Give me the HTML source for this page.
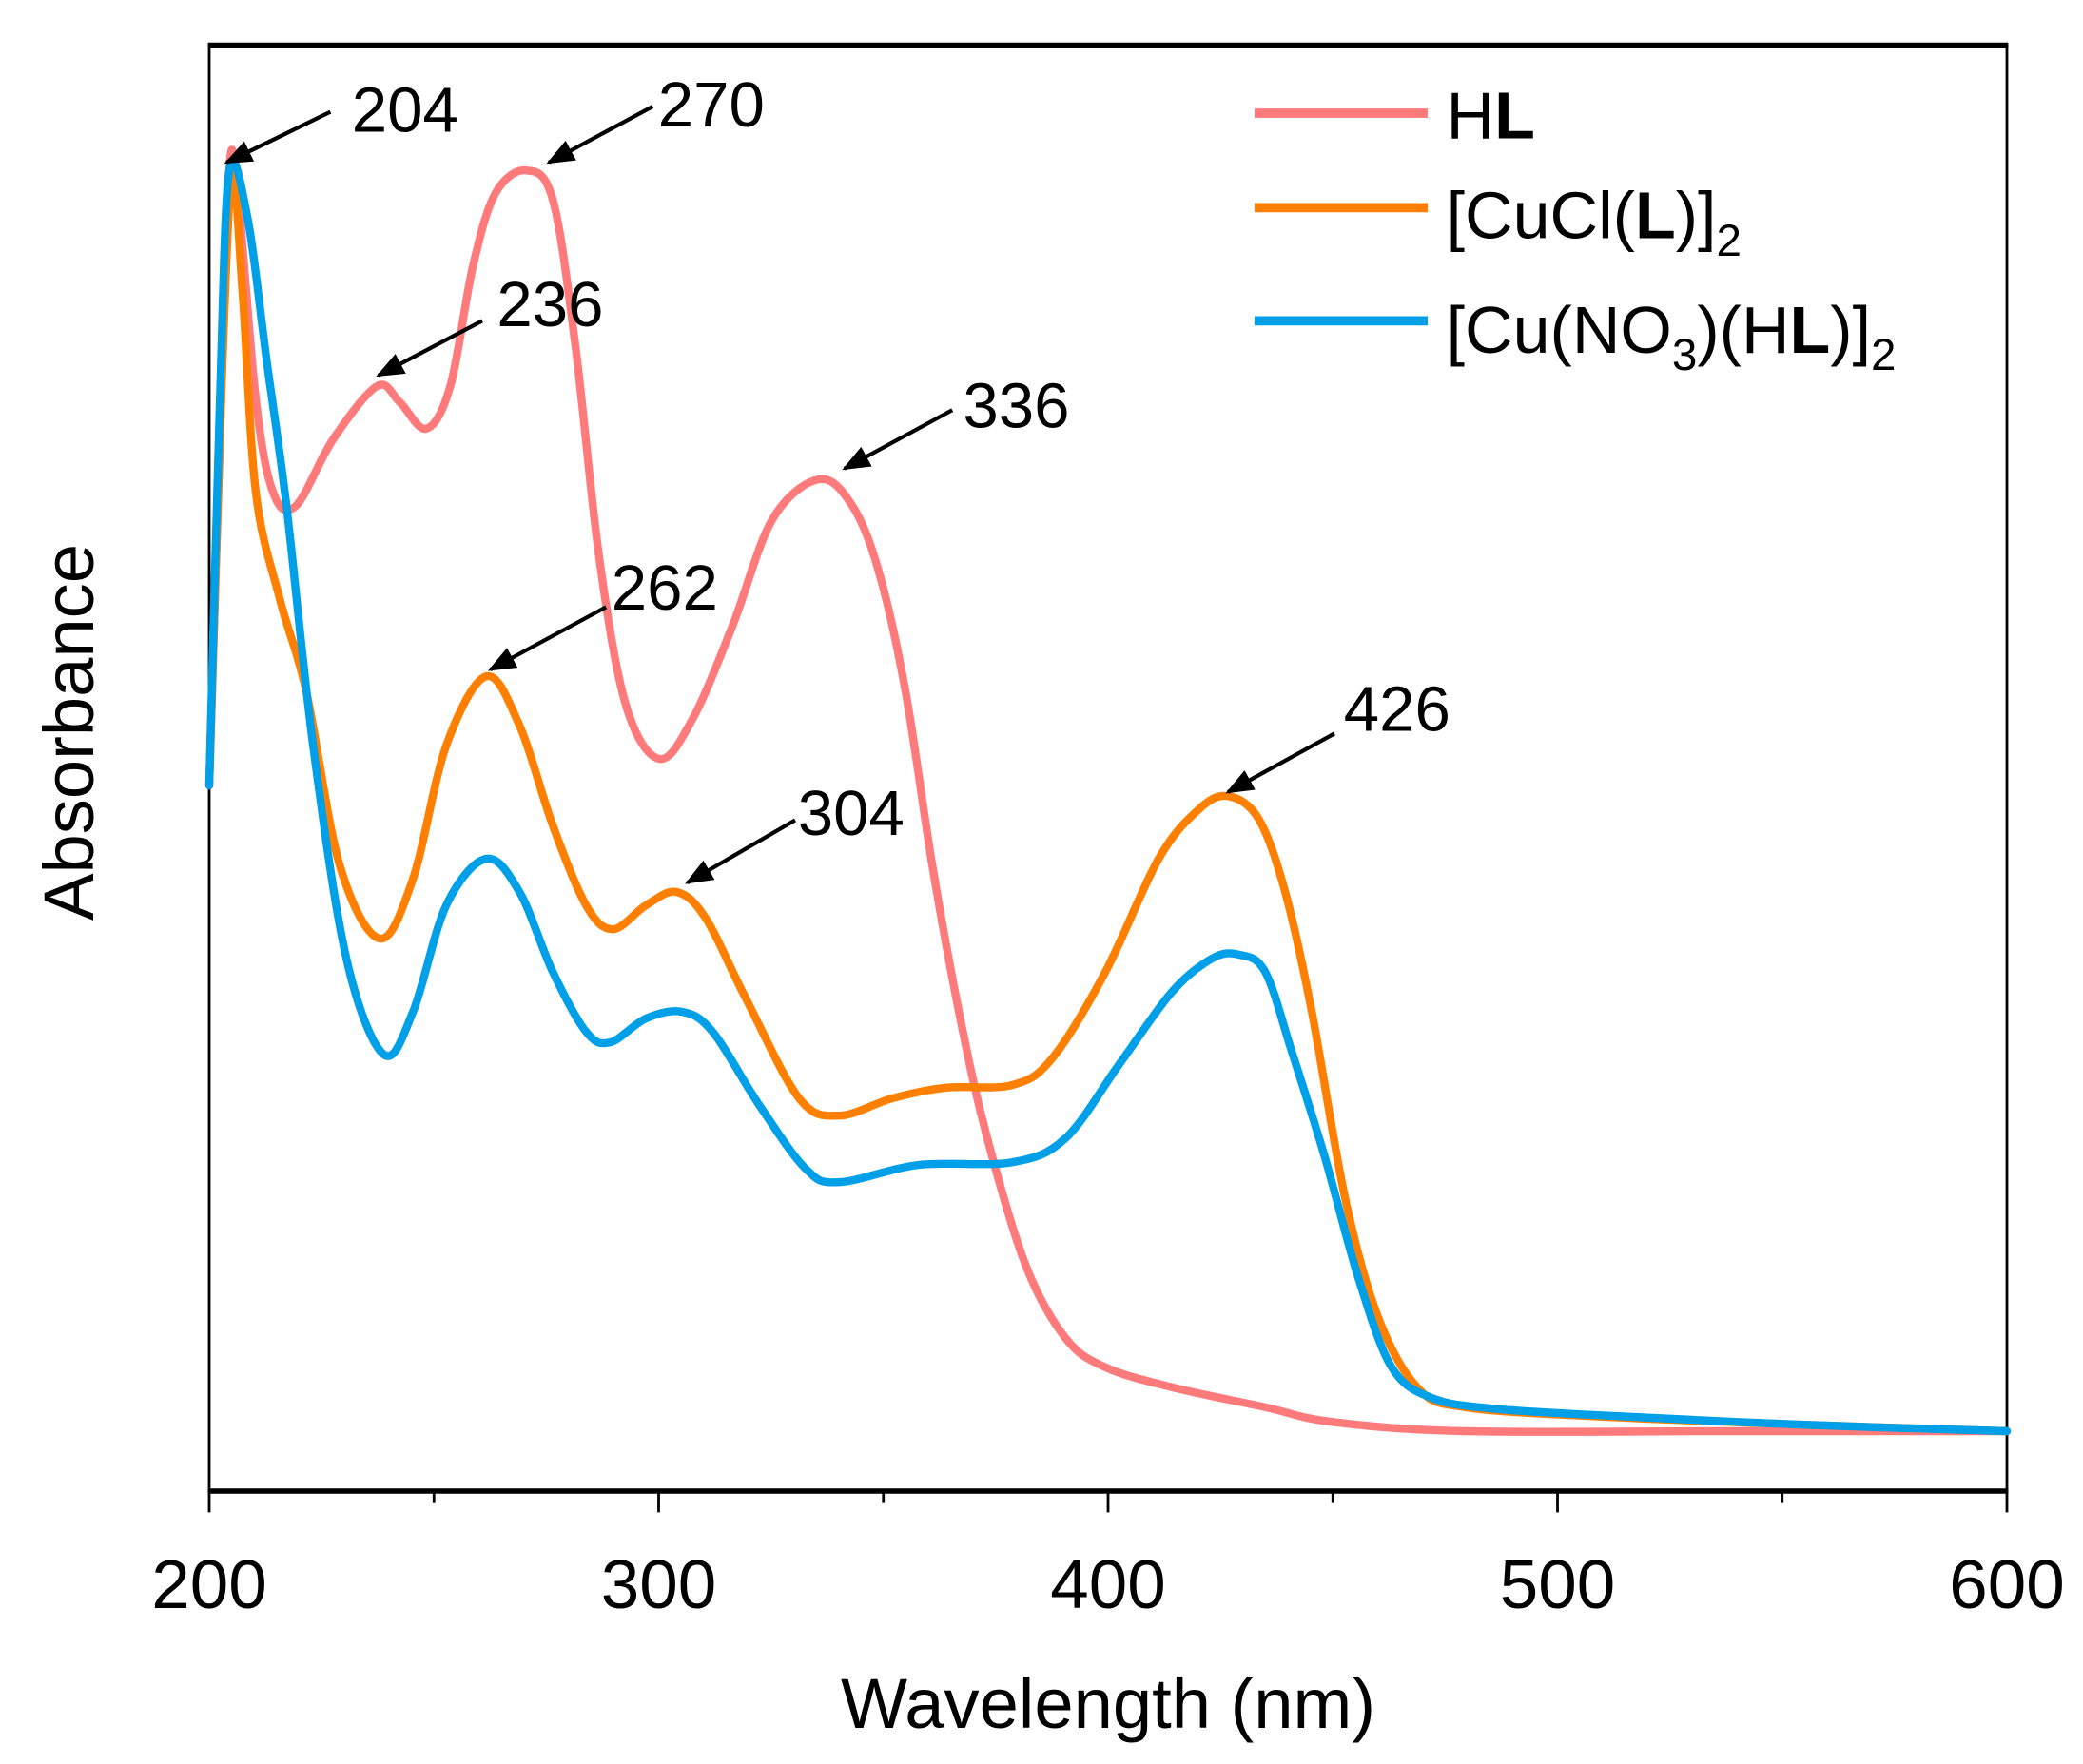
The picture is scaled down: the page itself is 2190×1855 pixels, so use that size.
<!DOCTYPE html>
<html><head><meta charset="utf-8"><style>
html,body{margin:0;padding:0;background:#fff;}
svg{display:block;}
text{font-family:"Liberation Sans",Arial,sans-serif;fill:#000;}
</style></head><body>
<svg id="s" width="2190" height="1855" viewBox="0 0 1564 1325" xmlns="http://www.w3.org/2000/svg">
<defs><marker id="ah" viewBox="0 0 10 10" refX="9" refY="5" markerWidth="7" markerHeight="7" orient="auto"><path d="M0,1 L10,5 L0,9 z" fill="#000"/></marker></defs>
<rect x="157" y="34" width="1350" height="1086" fill="none" stroke="#000" stroke-width="2"/>
<line x1="156" y1="34" x2="1508" y2="34" stroke="#000" stroke-width="4"/>
<line x1="156" y1="1120" x2="1508" y2="1120" stroke="#000" stroke-width="4"/>
<g stroke="#000" stroke-width="2">
<line x1="157" y1="1120" x2="157" y2="1136"/><line x1="494.5" y1="1120" x2="494.5" y2="1136"/><line x1="832" y1="1120" x2="832" y2="1136"/><line x1="1169.5" y1="1120" x2="1169.5" y2="1136"/><line x1="1507" y1="1120" x2="1507" y2="1136"/>
<line x1="325.75" y1="1120" x2="325.75" y2="1129"/><line x1="663.25" y1="1120" x2="663.25" y2="1129"/><line x1="1000.75" y1="1120" x2="1000.75" y2="1129"/><line x1="1338.25" y1="1120" x2="1338.25" y2="1129"/>
</g>
<g font-size="52" text-anchor="middle">
<text x="157" y="1208">200</text><text x="494.5" y="1208">300</text><text x="832" y="1208">400</text><text x="1169.5" y="1208">500</text><text x="1507" y="1208">600</text>
</g>
<text x="832" y="1298" font-size="53" text-anchor="middle">Wavelength (nm)</text>
<text transform="translate(70,550) rotate(-90)" font-size="53" text-anchor="middle">Absorbance</text>
<g id="curves" fill="none" stroke-width="6" stroke-linejoin="round" stroke-linecap="round"></g>
<g stroke="#000" stroke-width="3" marker-end="url(#ah)">
<line x1="248" y1="84" x2="170" y2="122"/>
<line x1="490" y1="80" x2="412" y2="122"/>
<line x1="362" y1="241" x2="284" y2="282"/>
<line x1="715" y1="308" x2="634" y2="352"/>
<line x1="455" y1="456" x2="368" y2="503"/>
<line x1="597" y1="616" x2="516" y2="663"/>
<line x1="1002" y1="551" x2="922" y2="595"/>
</g>
<g font-size="48">
<text x="264" y="99">204</text><text x="494" y="95">270</text><text x="373" y="245">236</text><text x="723" y="321">336</text><text x="459" y="458">262</text><text x="599" y="627">304</text><text x="1009" y="549">426</text>
</g>
<g stroke-width="7">
<line x1="942" y1="85" x2="1072" y2="85" stroke="#FF7A7A"/>
<line x1="942" y1="156" x2="1072" y2="156" stroke="#FF8000"/>
<line x1="942" y1="241" x2="1072" y2="241" stroke="#00A0E9"/>
</g>
<g font-size="50">
<text x="1086" y="104">H<tspan font-weight="bold">L</tspan></text>
<text x="1086" y="179">[CuCl(<tspan font-weight="bold">L</tspan>)]<tspan font-size="34" dy="13">2</tspan></text>
<text x="1086" y="265">[Cu(NO<tspan font-size="34" dy="13">3</tspan><tspan dy="-13">)(H</tspan><tspan font-weight="bold">L</tspan>)]<tspan font-size="34" dy="13">2</tspan></text>
</g>
</svg>
<script>
function cr(p){var d="M"+p[0][0]+","+p[0][1];for(var i=0;i<p.length-1;i++){var p0=p[i-1]||p[i],p1=p[i],p2=p[i+1],p3=p[i+2]||p2;var c1=[p1[0]+(p2[0]-p0[0])/6,p1[1]+(p2[1]-p0[1])/6],c2=[p2[0]-(p3[0]-p1[0])/6,p2[1]-(p3[1]-p1[1])/6];d+=" C"+c1+" "+c2+" "+p2;}return d;}
var S={
"#FF7A7A":[[157,590],[166,300],[172,128],[178,140],[192,300],[205,370],[222,380],[250,330],[283,290],[300,302],[320,322],[338,290],[355,200],[372,145],[395,128],[415,150],[432,260],[450,420],[470,530],[495,570],[520,540],[550,470],[580,390],[615,360],[640,380],[660,430],[680,520],[700,650],[720,760],[740,850],[770,950],[800,1005],[830,1027],[880,1042],[950,1057],[1000,1068],[1100,1075],[1300,1075],[1507,1075]],
"#FF8000":[[157,590],[166,300],[174,132],[182,220],[192,370],[210,450],[230,520],[255,650],[285,705],[310,660],[335,560],[365,508],[390,545],[415,620],[440,680],[460,698],[485,680],[508,670],[530,690],[560,750],[600,825],[630,838],[670,825],[710,817],[760,815],[790,795],[830,730],[870,645],[900,608],[922,598],[945,615],[965,670],[985,760],[1010,900],[1035,990],[1065,1043],[1100,1057],[1200,1064],[1350,1070],[1507,1075]],
"#00A0E9":[[157,590],[165,300],[172,128],[186,165],[200,270],[215,380],[235,560],[260,720],[288,792],[310,760],[335,680],[365,645],[390,670],[415,730],[440,775],[458,783],[485,765],[512,760],[535,775],[570,830],[605,878],[630,888],[690,875],[760,873],[800,855],[840,800],[880,745],[910,720],[930,717],[950,730],[970,790],[995,870],[1020,960],[1045,1027],[1075,1050],[1120,1058],[1200,1063],[1350,1070],[1507,1075]]};
var g=document.getElementById("curves");
for(var c in S){var e=document.createElementNS("http://www.w3.org/2000/svg","path");e.setAttribute("d",cr(S[c]));e.setAttribute("stroke",c);g.appendChild(e);}
</script>
</body></html>
